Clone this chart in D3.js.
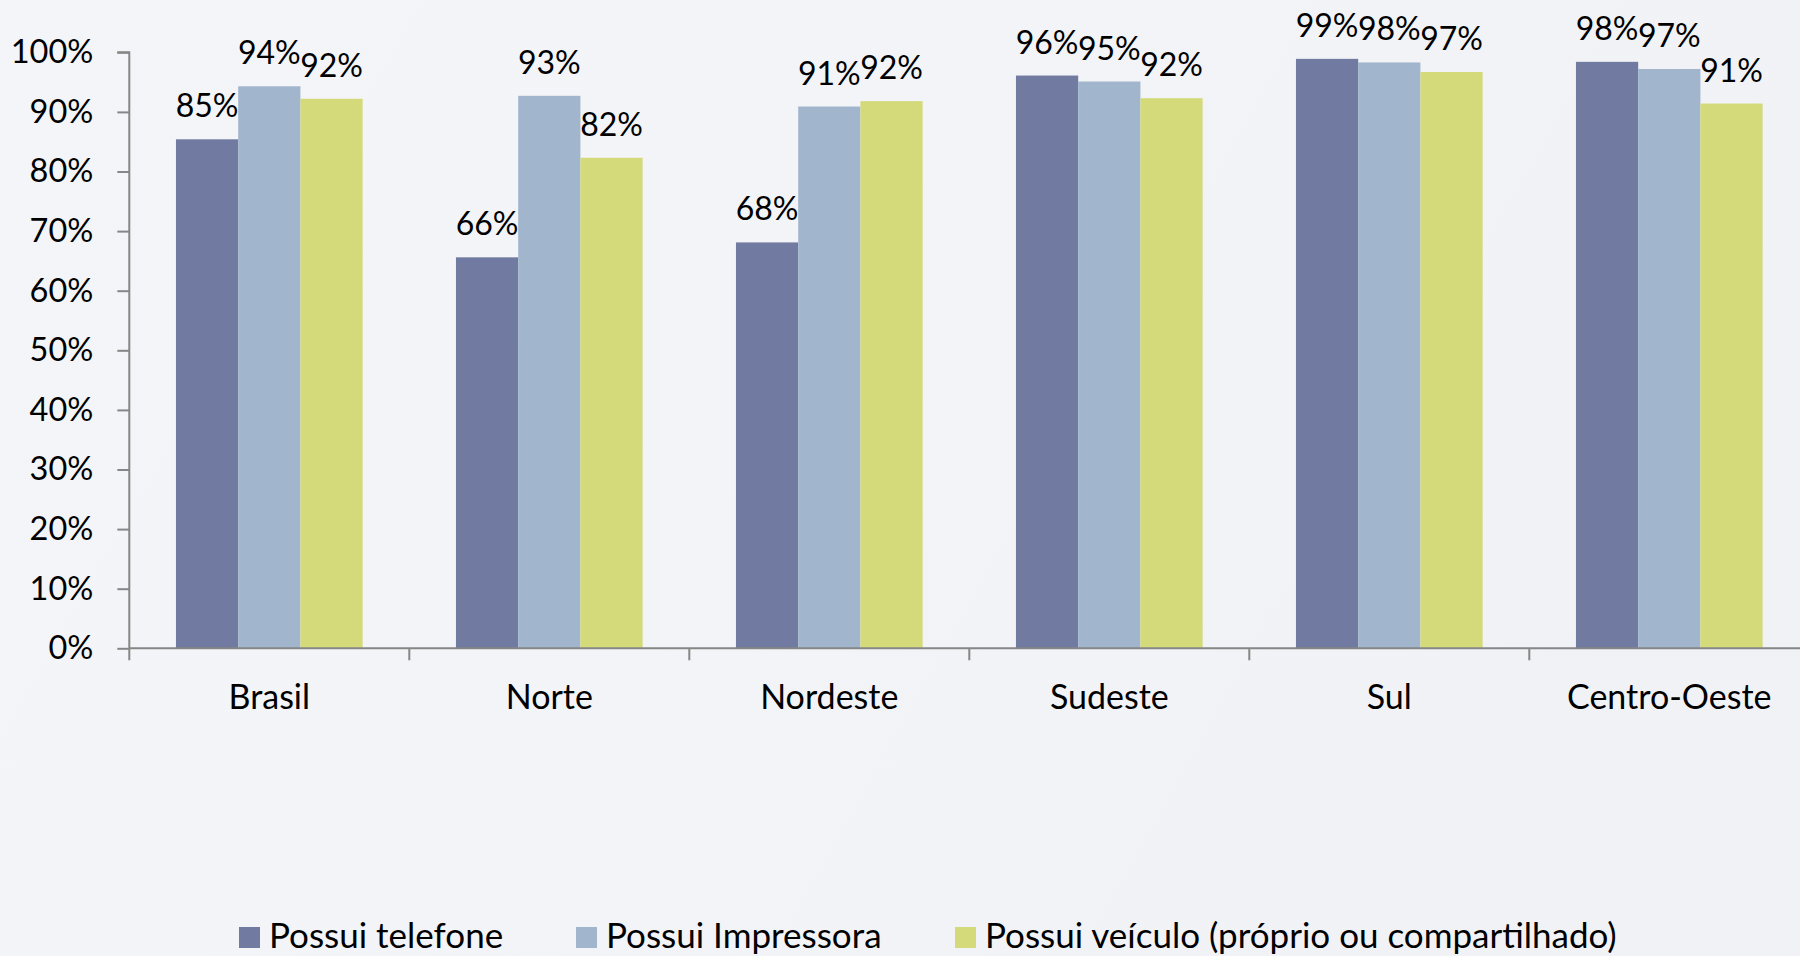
<!DOCTYPE html>
<html>
<head>
<meta charset="utf-8">
<script src="https://cdn.jsdelivr.net/npm/d3@7"></script>
<style>
  html, body { margin: 0; padding: 0; background: #f2f3f6; }
  svg { display: block; }
  text { font-family: Lato, "Open Sans", sans-serif; fill: #000; }
</style>
</head>
<body>
<svg id="chart" width="1800" height="956"></svg>
<script>
const categories = ["Brasil", "Norte", "Nordeste", "Sudeste", "Sul", "Centro-Oeste"];
const seriesNames = ["Possui telefone", "Possui Impressora", "Possui veículo (próprio ou compartilhado)"];
const telefone   = [0.854, 0.656, 0.681, 0.961, 0.989, 0.984];
const impressora = [0.943, 0.927, 0.909, 0.951, 0.983, 0.972];
const veiculo    = [0.922, 0.823, 0.918, 0.923, 0.967, 0.914];
const yTicks = [0, 0.1, 0.2, 0.3, 0.4, 0.5, 0.6, 0.7, 0.8, 0.9, 1.0];
const colors = ["#717aa0", "#a1b6cd", "#d4da7a"];

(function () {
const seriesValues = [telefone, impressora, veiculo];

const svg = d3.select("#chart");
const W = 1800, H = 956;

// background
const defs = svg.append("defs");
const grad = defs.append("linearGradient").attr("id", "bg").attr("x1", "0").attr("y1", "0").attr("x2", "1").attr("y2", "0.3");
grad.append("stop").attr("offset", "0").attr("stop-color", "#f4f5f8");
grad.append("stop").attr("offset", "0.5").attr("stop-color", "#f3f4f7");
grad.append("stop").attr("offset", "1").attr("stop-color", "#f1f2f6");
svg.append("rect").attr("width", W).attr("height", H).attr("fill", "url(#bg)");

const plotLeft = 129.3, plotTop = 52.3, plotBottom = 648.3;
const step = 280;
const x0 = d3.scaleBand().domain(categories).range([plotLeft, plotLeft + step * categories.length]).padding(0);
const x1 = d3.scaleBand().domain(seriesNames).range([0, x0.bandwidth()]).paddingInner(0).paddingOuter(0.75);
const y = d3.scaleLinear().domain([0, 1]).range([plotBottom, plotTop]);

const fmt = d3.format(".0%");
const axisColor = "#868686";

// bars
const groups = svg.append("g").selectAll("g")
  .data(categories)
  .join("g")
  .attr("transform", d => `translate(${x0(d)},0)`);

groups.each(function(cat, ci) {
  const g = d3.select(this);
  seriesNames.forEach((s, si) => {
    const v = seriesValues[si][ci];
    g.append("rect")
      .attr("x", x1(s))
      .attr("y", y(v))
      .attr("width", x1.bandwidth())
      .attr("height", y(0) - y(v))
      .attr("fill", colors[si]);
  });
  seriesNames.forEach((s, si) => {
    const v = seriesValues[si][ci];
    g.append("text")
      .attr("x", x1(s) + x1.bandwidth() / 2)
      .attr("y", y(v) - 22)
      .attr("text-anchor", "middle")
      .style("font-size", "32px")
      .text(fmt(v));
  });
});

// y axis
const yAxis = d3.axisLeft(y).tickValues(yTicks).tickFormat(fmt).tickSize(12).tickPadding(24);
const yg = svg.append("g").attr("transform", `translate(${plotLeft},0)`).call(yAxis);
yg.select(".domain").attr("stroke", axisColor).attr("stroke-width", 2).attr("d", `M-12,${plotTop}H0V${plotBottom}`);
yg.selectAll(".tick line").attr("stroke", axisColor).attr("stroke-width", 2);
yg.selectAll(".tick text").style("font-size", "32.5px").style("font-family", "Lato, sans-serif").attr("fill", "#000");

// x axis
const xg = svg.append("g");
xg.append("line").attr("x1", plotLeft).attr("x2", W).attr("y1", plotBottom).attr("y2", plotBottom)
  .attr("stroke", axisColor).attr("stroke-width", 2);
xg.selectAll("line.tick").data(categories).join("line")
  .attr("class", "tick")
  .attr("x1", d => x0(d)).attr("x2", d => x0(d))
  .attr("y1", plotBottom).attr("y2", plotBottom + 12)
  .attr("stroke", axisColor).attr("stroke-width", 2);
xg.selectAll("text").data(categories).join("text")
  .attr("x", d => x0(d) + x0.bandwidth() / 2)
  .attr("y", 709)
  .attr("text-anchor", "middle")
  .style("font-size", "34px")
  .text(d => d);

// legend
const legendX = [239, 576, 955];
const lg = svg.append("g");
seriesNames.forEach((s, i) => {
  lg.append("rect").attr("x", legendX[i]).attr("y", 927).attr("width", 21).attr("height", 21).attr("fill", colors[i]);
  lg.append("text").attr("x", legendX[i] + 30).attr("y", 948).style("font-size", "35px").text(s);
});
})();
</script>
</body>
</html>
